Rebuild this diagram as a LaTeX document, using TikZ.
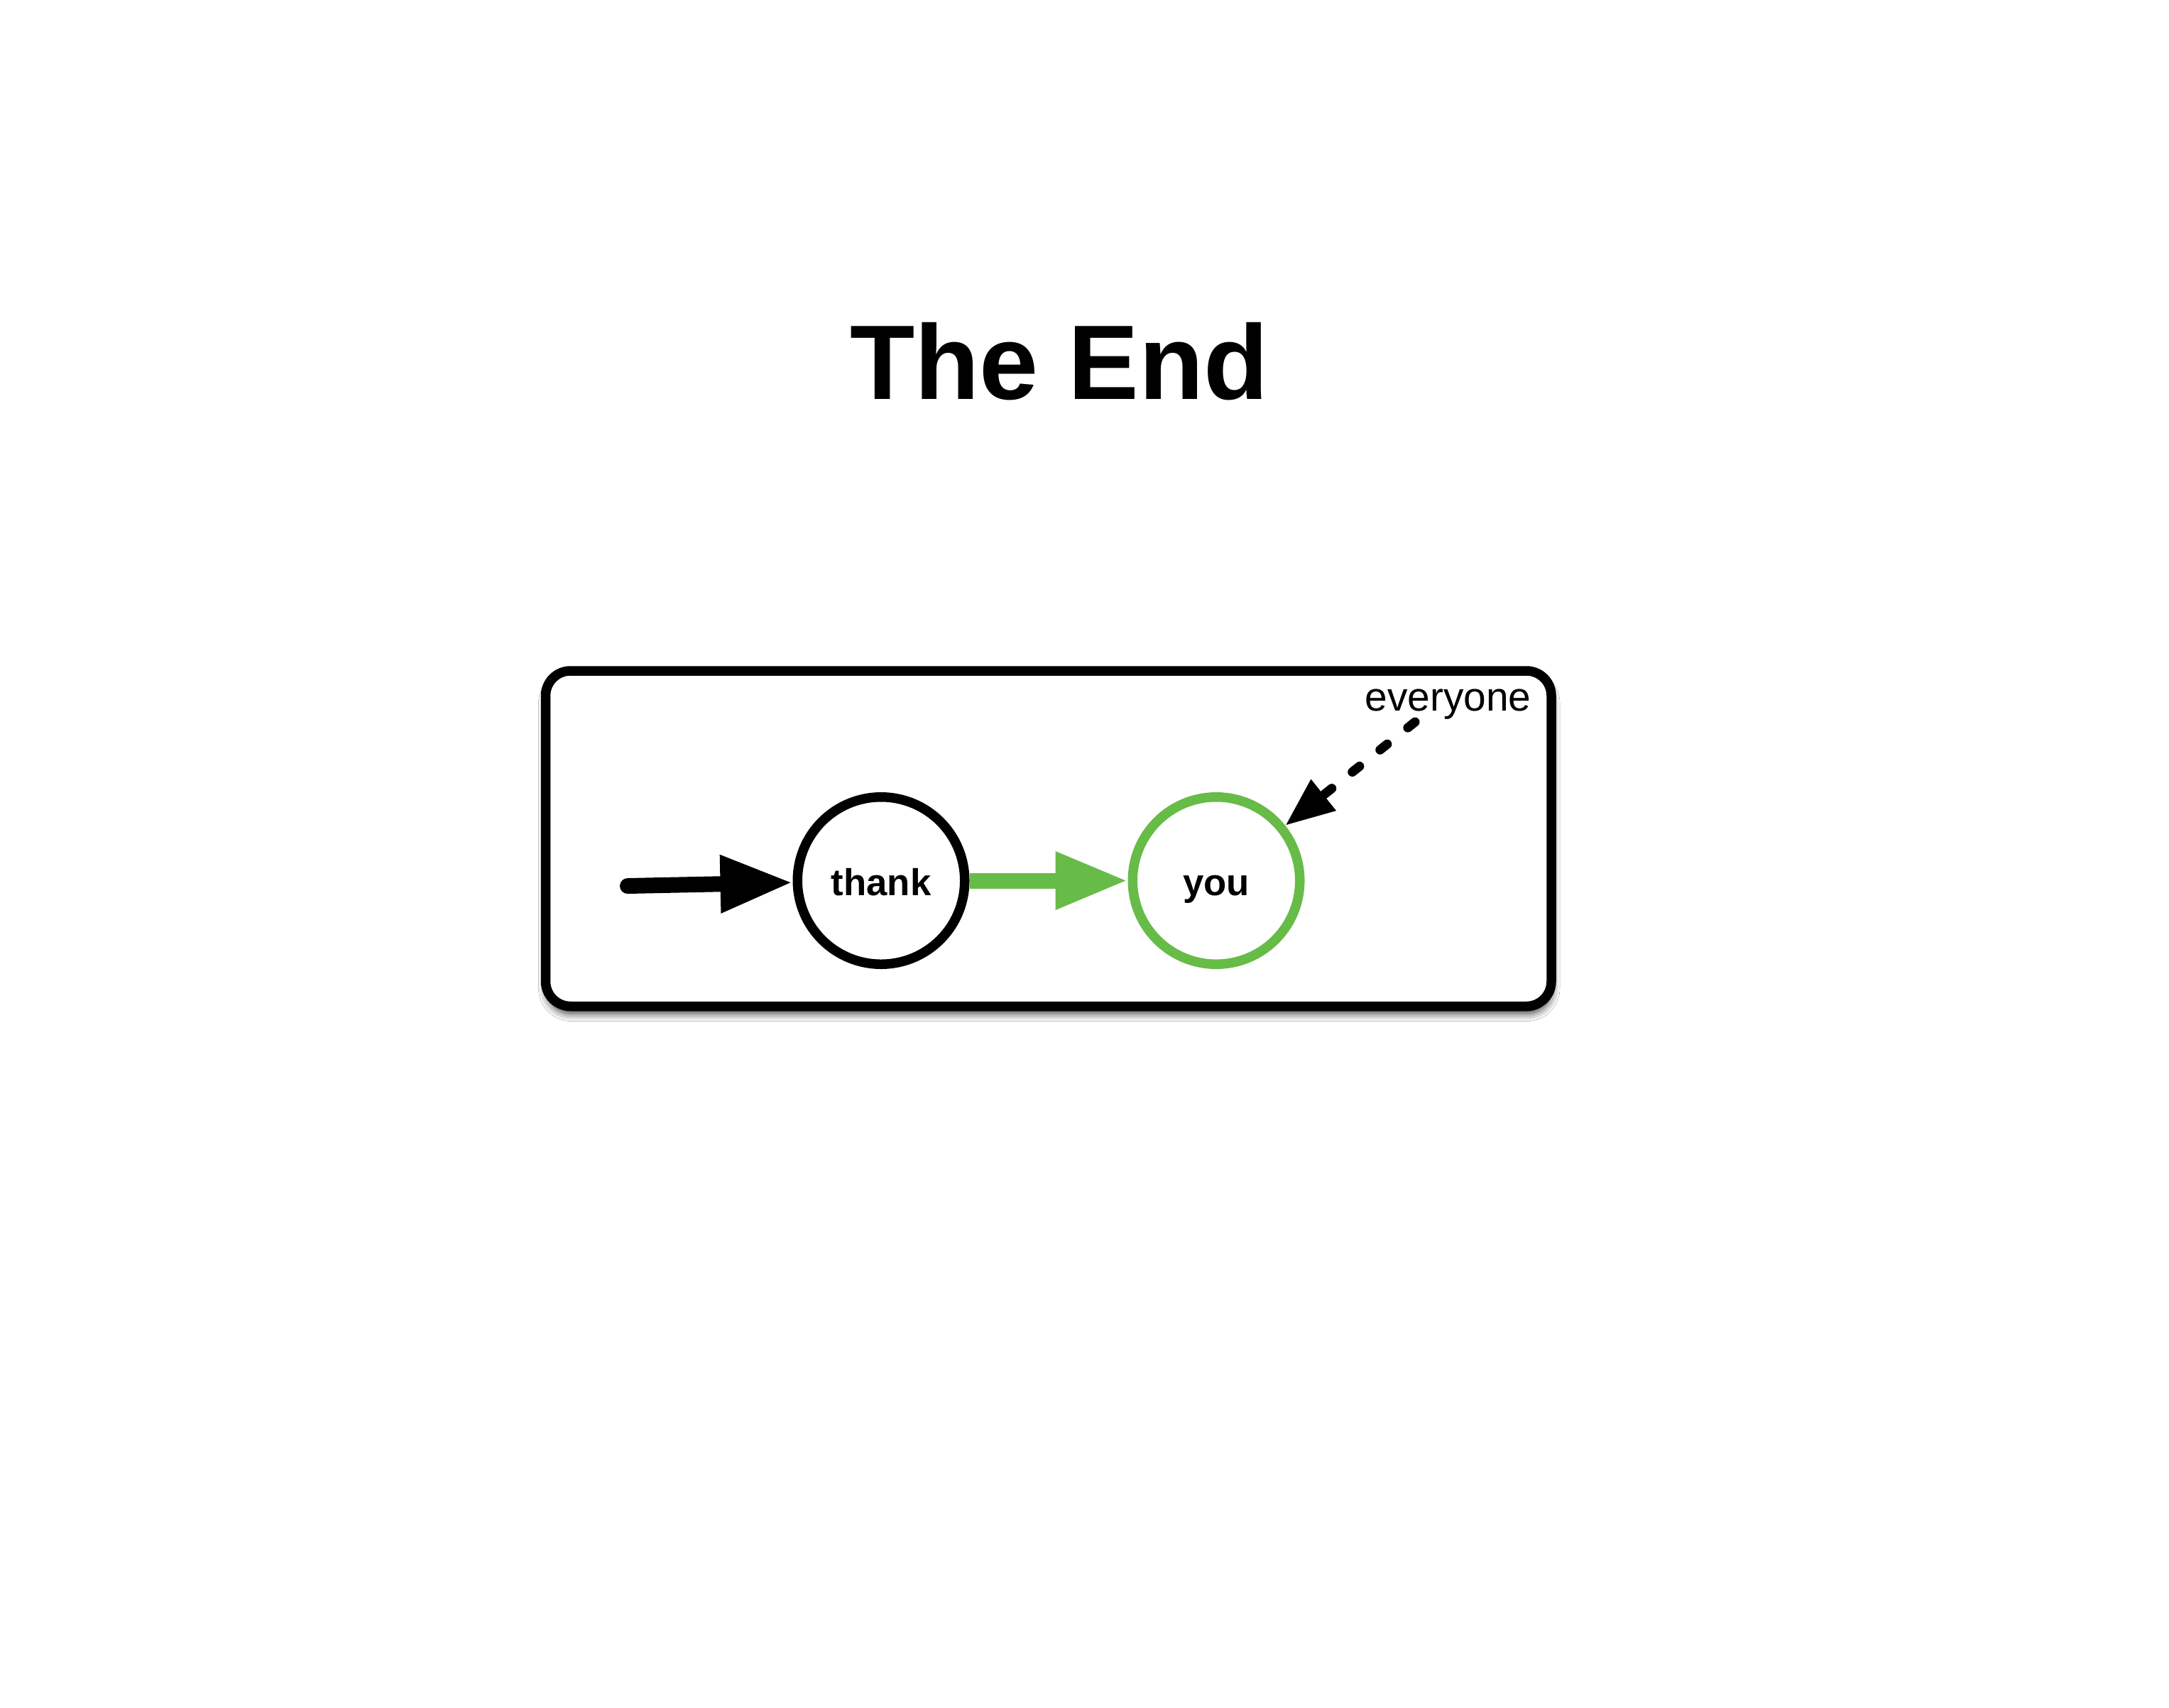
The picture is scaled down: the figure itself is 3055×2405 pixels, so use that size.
\documentclass[tikz,border=0pt]{standalone}
\usepackage{fontspec}
\setmainfont{Liberation Sans}
\usetikzlibrary{arrows.meta,shadows.blur}
\definecolor{leafgreen}{RGB}{103,187,71}
\begin{document}
\begin{tikzpicture}[x=0.1mm,y=-0.1mm,
  statenode/.style={circle, draw, line width=1.35mm, minimum size=23.55mm, inner sep=0pt,
    text height=4.24mm, text depth=0pt, font=\fontsize{15}{18}\selectfont\bfseries},
  framebox/.style={draw, line width=1.35mm, rounded corners=3.5mm, fill=white,
    minimum width=141.65mm, minimum height=47.25mm, inner sep=0pt,
    blur shadow={shadow xshift=0.1mm, shadow yshift=-1.0mm, shadow blur radius=1.1mm, shadow opacity=80}},
  bigtip/.style={-{Triangle[length=10.2mm,width=7.6mm]}},
  smalltip/.style={-{Triangle[length=6.9mm,width=5.3mm]}}]
\useasboundingbox[fill=white] (0,0) rectangle (3055,2405);
\node (title) at (1492,562) [anchor=base, inner sep=0pt, font=\fontsize{42.5}{50}\selectfont\bfseries] {The End};
\node[framebox] (frame) at (1476.75,1181.25) {};
\node[statenode] (thank) at (1241,1240.5) {thank};
\node[statenode, draw=leafgreen] (you) at (1713,1240.5) {you};
\node (everyone) at (2039.5,1001.7) [anchor=base, inner sep=0pt, font=\fontsize{16.2}{19}\selectfont] {everyone};
\coordinate (start) at (884,1248);
\coordinate (src) at (1993,1017);
\draw[line width=2.2mm, line cap=round, bigtip] (start) -- (thank);
\draw[line width=2.2mm, leafgreen, bigtip] (thank) -- (you);
\draw[line width=1.3mm, line cap=round, dash pattern=on 1.3mm off 3.7mm, smalltip] (src) -- (you);
\end{tikzpicture}
\end{document}
